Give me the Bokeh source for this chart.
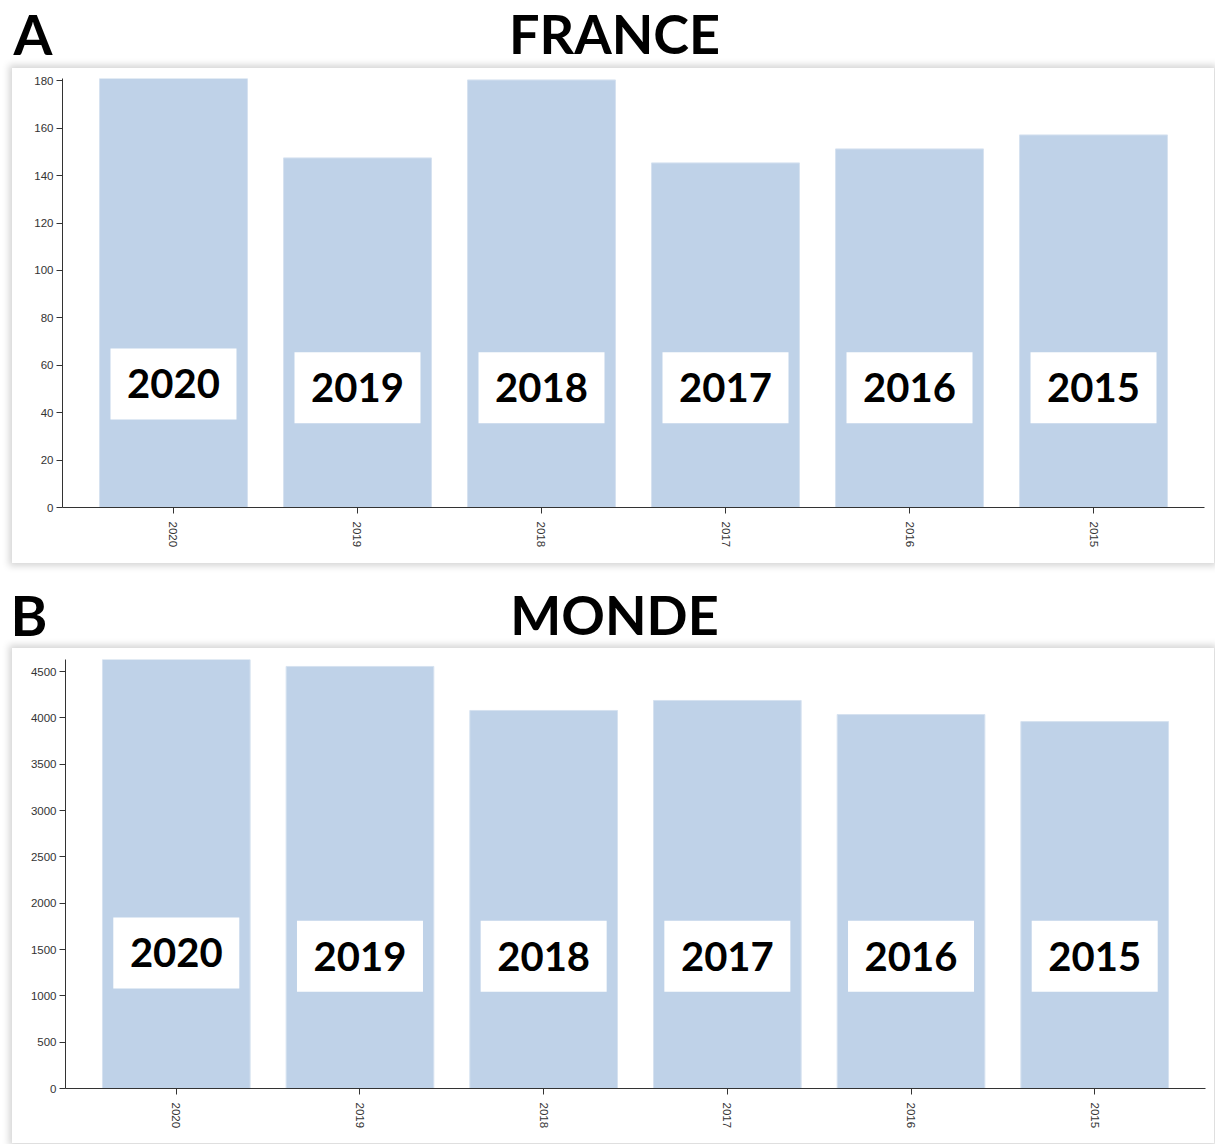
import math
from bokeh.plotting import figure
from bokeh.models import FactorRange, Range1d, FixedTicker, ColumnDataSource
from bokeh.layouts import column
from bokeh.core.properties import value
from bokeh.embed import file_html
from bokeh.resources import INLINE

years = ["2020", "2019", "2018", "2017", "2016", "2015"]
france = [181, 147.5, 180.4, 145.4, 151.3, 157.2]
monde = [4630, 4555, 4080, 4188, 4036, 3960]
france_ticks = [0, 20, 40, 60, 80, 100, 120, 140, 160, 180]
monde_ticks = [0, 500, 1000, 1500, 2000, 2500, 3000, 3500, 4000, 4500]

BAR = "#bfd2e8"
W = 1214
PW = 1202


def header(letter, title, height, base, lx):
    h = figure(width=W, height=height, x_range=Range1d(0, W), y_range=Range1d(height, 0),
               output_backend="svg", toolbar_location=None, min_border=0,
               x_axis_location=None, y_axis_location=None, frame_align=False,
               border_fill_alpha=0, background_fill_alpha=0, outline_line_color=None)
    h.grid.visible = False
    h.text(x=[lx], y=[base], text=[letter], text_font=value("Lato"), text_font_style="bold",
           text_font_size="56px", text_color="black", text_align="left", text_baseline="alphabetic")
    h.text(x=[614], y=[base], text=[title], text_font=value("Lato"), text_font_style="bold",
           text_font_size="54px", text_color="black", text_align="center", text_baseline="alphabetic")
    return h


def bars(vals, ticks, height, bl, br, bt, bb, label_frac, first_shift):
    ymax = max(vals)
    p = figure(width=PW, height=height,
               x_range=FactorRange(*years, range_padding=0.0344),
               y_range=Range1d(0, ymax),
               output_backend="svg", toolbar_location=None, frame_align=False,
               min_border_left=bl, min_border_right=br, min_border_top=bt, min_border_bottom=bb,
               outline_line_color=None, background_fill_color="white", border_fill_color="white",
               margin=(0, 0, 0, 12))
    p.styles = {"box-shadow": "0px 0px 7px 3px rgba(0,0,0,0.17)"}
    src = ColumnDataSource(dict(x=years, top=vals))
    p.vbar(x="x", top="top", width=0.804, source=src, fill_color=BAR,
           line_color="#d6e2f0", line_width=1)
    ly = [ymax * label_frac + (first_shift * ymax if i == 0 else 0) for i in range(len(years))]
    lsrc = ColumnDataSource(dict(x=years, y=ly, t=years))
    p.rect(x="x", y="y", width=126, height=71, width_units="screen", height_units="screen",
           source=lsrc, fill_color="white", line_color=None)
    p.text(x="x", y="y", text="t", source=lsrc, text_font=value("Lato"), text_font_style="bold",
           text_font_size="40px", text_color="black", text_align="center", text_baseline="middle")
    p.grid.visible = False
    p.yaxis.ticker = FixedTicker(ticks=ticks)
    for ax in (p.xaxis[0], p.yaxis[0]):
        ax.axis_line_color = "#333333"
        ax.major_tick_line_color = "#333333"
        ax.major_tick_out = 6
        ax.major_tick_in = 0
        ax.minor_tick_line_color = None
        ax.major_label_text_font = "Liberation Sans"
        ax.major_label_text_font_size = "11.5px"
        ax.major_label_text_color = "#333333"
    p.yaxis.major_label_standoff = 3
    p.xaxis.major_label_standoff = 8
    p.xaxis.major_label_orientation = -math.pi / 2
    return p


hA = header("A", "FRANCE", 68, 33, 13)
pA = bars(france, france_ticks, 495, 50, 10, 10, 56, 0.279, 0.009)
hB = header("B", "MONDE", 85, 51, 10)
pB = bars(monde, monde_ticks, 495, 53, 9, 11, 55, 0.308, 0.008)

layout = column(hA, pA, hB, pB, spacing=0)
open("out.html", "w").write(file_html(layout, INLINE))
